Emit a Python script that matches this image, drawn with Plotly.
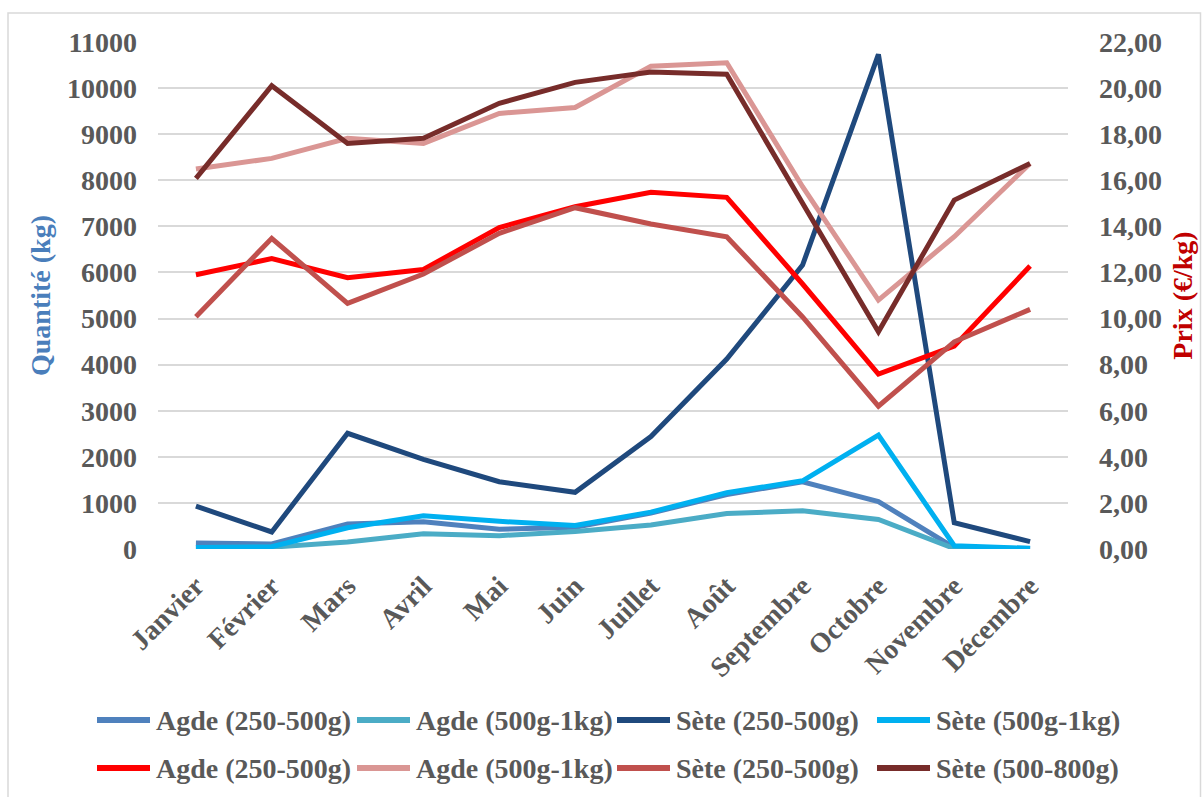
import plotly.graph_objects as go

# Months on the category axis
mois = ["Janvier", "Février", "Mars", "Avril", "Mai", "Juin", "Juillet",
        "Août", "Septembre", "Octobre", "Novembre", "Décembre"]

# Quantities landed (kg) – left axis
qte_agde_250_500 = [130, 110, 540, 590, 430, 470, 780, 1180, 1460, 1030, 30, 10]
qte_agde_500_1kg = [30, 40, 150, 330, 290, 380, 520, 770, 830, 640, 10, 5]
qte_sete_250_500 = [930, 370, 2510, 1945, 1460, 1230, 2440, 4120, 6160, 10730, 570, 160]
qte_sete_500_1kg = [30, 50, 460, 720, 600, 510, 800, 1220, 1480, 2470, 70, 15]

# Average prices (€/kg) – right axis
prix_agde_250_500 = [11.90, 12.60, 11.77, 12.13, 13.95, 14.85, 15.48, 15.26, 11.50, 7.59, 8.80, 12.28]
prix_agde_500_1kg = [16.49, 16.95, 17.82, 17.60, 18.90, 19.16, 20.95, 21.10, 15.72, 10.80, 13.55, 16.73]
prix_sete_250_500 = [10.08, 13.48, 10.66, 11.93, 13.70, 14.81, 14.10, 13.55, 10.07, 6.20, 8.99, 10.40]
prix_sete_500_800 = [16.08, 20.10, 17.60, 17.82, 19.34, 20.25, 20.70, 20.60, 15.00, 9.43, 15.14, 16.73]

serif = "Liberation Serif, Times New Roman, serif"
gris = "#595959"
taille = 28

series = [
    ("Agde (250-500g)", qte_agde_250_500, "#4f81bd", "y"),
    ("Agde (500g-1kg)", qte_agde_500_1kg, "#4bacc6", "y"),
    ("Sète (250-500g)", qte_sete_250_500, "#1f497d", "y"),
    ("Sète (500g-1kg)", qte_sete_500_1kg, "#00b0f0", "y"),
    ("Agde (250-500g)", prix_agde_250_500, "#ff0000", "y2"),
    ("Agde (500g-1kg)", prix_agde_500_1kg, "#da9694", "y2"),
    ("Sète (250-500g)", prix_sete_250_500, "#c0504d", "y2"),
    ("Sète (500-800g)", prix_sete_500_800, "#772c2a", "y2"),
]

W, H = 1202, 797
ML, MR, MT, MB = 158, 134, 42, 248
PW, PH = W - ML - MR, H - MT - MB


def px_x(px):
    return (px - ML) / PW


def px_y(py):
    return (H - MB - py) / PH


fig = go.Figure()
for nom, vals, couleur, axe in series:
    fig.add_trace(go.Scatter(
        x=mois, y=vals, name=nom, yaxis=axe, mode="lines",
        line=dict(color=couleur, width=5),
    ))

fig.update_layout(
    width=W, height=H,
    margin=dict(l=ML, r=MR, t=MT, b=MB, autoexpand=False),
    paper_bgcolor="white", plot_bgcolor="white",
    separators=", ",
    font=dict(family=serif, size=taille, color=gris),
    showlegend=False,
    xaxis=dict(
        type="category", range=[-0.5, 11.5], showgrid=False, showline=False,
        ticks="", tickangle=-45, ticklabelstandoff=14, automargin=False,
        tickfont=dict(family=serif, size=taille, color=gris, weight="bold"),
    ),
    yaxis=dict(
        range=[0, 11000], dtick=1000, tickformat="d",
        showgrid=True, gridcolor="#d9d9d9", gridwidth=1.5,
        zeroline=False, showline=False, ticks="", automargin=False,
        ticklabelstandoff=20,
        tickfont=dict(family=serif, size=taille, color=gris, weight="bold"),
        title=dict(text="Quantité (kg)", standoff=8,
                   font=dict(family=serif, size=taille, color="#4a7ebb", weight="bold")),
    ),
    yaxis2=dict(
        range=[0, 22], dtick=2, tickformat=".2f", overlaying="y", side="right",
        showgrid=False, zeroline=False, showline=False, ticks="", automargin=False,
        ticklabelstandoff=30,
        tickfont=dict(family=serif, size=taille, color=gris, weight="bold"),
        title=dict(text="Prix (€/kg)", standoff=11,
                   font=dict(family=serif, size=taille, color="#c00000", weight="bold")),
    ),
)

# Legend: two rows of four entries below the month labels
for i, (nom, _, couleur, _) in enumerate(series):
    col, row = i % 4, i // 4
    x0 = 97 + 260 * col
    y0 = 720 + 48 * row
    fig.add_shape(type="line", xref="paper", yref="paper",
                  x0=px_x(x0), x1=px_x(x0 + 53), y0=px_y(y0), y1=px_y(y0),
                  line=dict(color=couleur, width=6))
    fig.add_annotation(xref="paper", yref="paper", x=px_x(x0 + 57), y=px_y(y0),
                       xanchor="left", yanchor="middle", showarrow=False,
                       text=nom, font=dict(family=serif, size=taille, color=gris, weight="bold"))

# Chart frame
fig.add_shape(type="rect", xref="paper", yref="paper",
              x0=px_x(8), x1=px_x(1200.5), y0=px_y(800), y1=px_y(13),
              line=dict(color="#d9d9d9", width=1.5), layer="below")

fig.write_html("out.html")
